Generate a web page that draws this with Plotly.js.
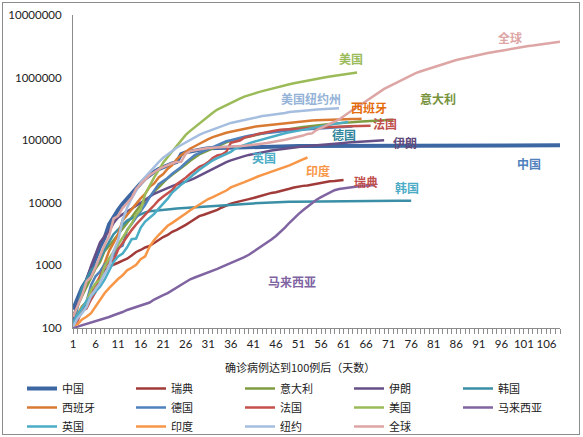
<!DOCTYPE html>
<html>
<head>
<meta charset="utf-8">
<script src="https://cdn.plot.ly/plotly-3.0.1.min.js"></script>
<style>
  html, body { margin: 0; padding: 0; background: #fff; }
  #wrap { position: relative; width: 583px; height: 437px; }
  #chart { width: 583px; height: 437px; }
  #frame {
    position: absolute; left: 2px; top: 2px; width: 576px; height: 431px;
    border: 1px solid #8c8c8c; pointer-events: none;
  }
</style>
</head>
<body>
<div id="wrap">
  <div id="chart"></div>
  <div id="frame"></div>
</div>
<script>
  // 确诊病例累计数，从达到100例那天起按天排列
  const china = [198, 291, 440, 571, 830, 1287, 1975, 2744, 4515, 5974, 7711, 9692, 11791,
    14380, 17205, 20438, 24324, 28018, 31161, 34546, 37198, 40171, 42638, 44653, 59804, 63851,
    66492, 68500, 70548, 72436, 74185, 74576, 75465, 76288, 76936, 77150, 77658, 78064, 78497,
    78824, 79251, 79824,
    80026, 80151, 80270, 80409, 80552, 80651, 80695, 80735, 80754, 80778, 80793, 80813, 80824,
    80844, 80860, 80881, 80894, 80928, 80967, 81008, 81054, 81093, 81171, 81218, 81285, 81340,
    81394, 81439, 81470, 81518, 81554,
    81589, 81620, 81639, 81669, 81708, 81740, 81802, 81865, 81907, 81953, 82052, 82160, 82249,
    82295, 82341, 82367, 82692, 82719, 82735, 82747, 82758, 82788, 82798, 82804, 82816, 82827,
    82830, 82836, 82858, 82862,
    82874, 82875, 82877, 82880, 82881, 82883];

  const sweden = [137, 161, 203, 248, 355, 500, 599, 814, 961, 1022, 1103, 1190, 1279, 1439,
    1639, 1763, 1934, 2046, 2286, 2526, 2840, 3069, 3447, 3700, 4028, 4435,
    4947, 5568, 6131, 6443, 6830, 7206, 7693, 8419, 9141, 9685, 10151, 10483, 10948, 11445,
    11927, 12540, 13216, 13822, 14385, 14777, 15322, 16004, 16755, 17567, 18177, 18640, 18926,
    19621, 20302, 21092,
    21520, 22082, 22317, 22721, 23216];

  const italy = [155, 229, 322, 453, 655, 888, 1128,
    1694, 2036, 2502, 3089, 3858, 4636, 5883, 7375, 9172, 10149, 12462, 15113, 17660, 21157,
    24747, 27980, 31506, 35713, 41035, 47021, 53578, 59138, 63927, 69176, 74386, 80589, 86498,
    92472, 97689, 101739, 105792,
    110574, 115242, 119827, 124632, 128948, 132547, 135586, 139422, 143626, 147577, 152271,
    156363, 159516, 162488, 165155, 168941, 172434, 175925, 178972, 181228, 183957, 187327,
    189973, 192994, 195351, 197675, 199414, 201505, 203591, 205463,
    207428, 209328, 210717, 211938];

  const iran = [139, 245, 388, 593,
    978, 1501, 2336, 2922, 3513, 4747, 5823, 6566, 7161, 8042, 9000, 10075, 11364, 12729,
    13938, 14991, 16169, 17361, 18407, 19644, 20610, 21638, 23049, 24811, 27017, 29406, 32332,
    35408, 38309, 41495, 44605,
    47593, 50468, 53183, 55743, 58226, 60500, 62589, 64586, 66220, 68192, 70029, 71686, 73303,
    74877, 76389, 77995, 79494, 80868, 82211, 83505, 84802, 85996, 87026, 88194, 89328, 90481,
    91472, 92584, 93657, 94640,
    95646, 96448, 97424, 98647, 99970];

  const korea = [104, 204, 433, 602, 833, 977, 1261, 1766, 2337, 3150,
    3736, 4335, 5186, 5621, 6088, 6593, 7041, 7314, 7478, 7513, 7755, 7869, 7979, 8086, 8162,
    8236, 8320, 8413, 8565, 8652, 8799, 8897, 8961, 9037, 9137, 9241, 9332, 9478, 9583, 9661,
    9786,
    9887, 9976, 10062, 10156, 10237, 10284, 10331, 10384, 10423, 10450, 10480, 10512, 10537,
    10564, 10591, 10613, 10635, 10653, 10661, 10674, 10683, 10694, 10702, 10708, 10718, 10728,
    10738, 10752, 10761, 10765,
    10774, 10780, 10793, 10801, 10804];

  const spain = [120, 165, 222, 259, 400, 500, 673, 1073, 1695, 2277, 3146, 5232, 6391, 7798,
    9942, 11748, 13910, 17963, 20410, 25374, 28768, 35136, 39885, 49515, 57786, 65719, 73235,
    80110, 87956, 95923,
    104118, 112065, 119199, 126168, 131646, 136675, 141942, 148220, 153222, 158273, 163027,
    166831, 170099, 172541, 177644, 180900, 182816, 188068, 191726, 194416, 198674, 200210,
    204178, 205905, 207634, 209465, 210773, 212917, 213435, 213800,
    215216, 216582, 217466, 218011, 219329];

  const germany = [130, 159, 196, 262, 482, 670, 799, 1040, 1176, 1457, 1908, 2078, 3675,
    4585, 5795, 7272, 9257, 12327, 15320, 19848, 22213, 24873, 29056, 32986, 37323, 43938,
    50871, 57695, 62095, 66885, 71808,
    77872, 84794, 91159, 96092, 100123, 103374, 107663, 113296, 118181, 122171, 124908, 127854,
    130072, 131359, 134753, 137698, 141397, 143342, 145184, 147065, 148291, 150648, 153129,
    154999, 156513, 157770, 158758, 159912, 161539, 163009,
    164077, 164967];

  const france = [100,
    130, 191, 204, 285, 377, 653, 949, 1126, 1209, 1784, 2281, 2876, 3661, 4499, 5423, 6633,
    7730, 9134, 10995, 12612, 14459, 16018, 19856, 22302, 25233, 29155, 32964, 37575, 40174,
    44550, 52128,
    56989, 59105, 65202, 90848, 93773, 98963, 110065, 113959, 118781, 125931, 130727, 133670,
    137875, 143303, 147091, 147969, 149149, 149232, 152894, 154188, 156480, 158100, 159297,
    160847, 161644, 162220, 163500, 165093, 165764, 166420,
    167299, 167305, 168396, 169462, 169583];

  const usa = [118, 149, 217, 262, 402, 518, 583, 959, 1281, 1663, 2179, 2726, 3499, 4632,
    6421, 7786, 13680, 19101, 25493, 33276, 43847, 53740, 65778, 83836, 101657, 121465,
    140909, 161831, 188172,
    213242, 243622, 275367, 308650, 336802, 366317, 397121, 428654, 462780, 496535, 526396,
    555313, 580619, 607670, 636350, 667801, 699706, 732197, 759086, 784326, 811865, 840351,
    869170, 905358, 938154, 965785, 988197, 1012582, 1039909, 1069424,
    1103461, 1132539, 1158040, 1180375, 1204351];

  const malaysia = [100, 105, 110, 115, 120, 128, 135, 140, 150, 160, 168, 180, 194, 205, 215,
    225, 235, 255, 285, 313, 335, 360, 400, 436, 480, 540, 600, 640, 680, 730, 780, 830, 880,
    950, 1016, 1100, 1190, 1280, 1360, 1480, 1650, 1850, 2050, 2300, 2600, 2950, 3400, 4000,
    4800, 5700, 6600, 7600, 8700, 9900, 11200, 12300, 13500, 14800, 15900, 16600, 17100,
    17500, 17800, 18200, 18600, 19000, 19100, 19200];

  const uk = [115, 163, 206, 273, 321, 382, 456, 590, 798, 1140, 1391, 1543, 1950, 2626, 2689,
    3983, 5018, 5683, 6650, 8077, 9529, 11658, 14543, 17089, 19522, 22141, 25150,
    29474, 33718, 38168, 41903, 47806, 51608, 55242, 60733, 65077, 73758, 78991, 84279, 88621,
    93873, 98476, 103093, 108692, 114217, 120067, 124743, 129044, 133495, 138078, 143464,
    148377, 152840, 157149, 161145, 165221, 171253,
    177454, 182260, 186599, 190584, 194990];

  const india = [110, 114, 137, 151, 173, 223, 283, 360, 434, 519, 606, 694, 834, 918, 1024,
    1251, 1397,
    1998, 2543, 3059, 3588, 4289, 4778, 5311, 5916, 6725, 7598, 8446, 9205, 10453, 11487,
    12322, 13430, 14352, 15722, 17615, 18539, 20080, 21370, 23077, 24530, 26283, 27890, 29451,
    31324, 33062, 34863,
    37257, 39699, 42505, 46437, 49400, 52952];

  const newYork = [105, 142, 173, 216, 328, 421, 525, 732, 967, 1706, 2495, 5365, 8310, 11710,
    15800, 20884, 25681, 30841, 37877, 44635, 52318, 59648, 66663, 75833,
    83712, 92381, 102863, 113704, 122031, 130689, 138863, 149316, 159937, 170512, 180458,
    188694, 195031, 202208, 213779, 222284, 229642, 236732, 242786, 247512, 251690, 257216,
    263460, 271590, 282143, 288045, 291996, 295106, 299691, 304372,
    308314, 312977, 316415, 318953, 321192, 323978];

  const world = [150, 230, 330,
    555, 654, 941, 1434, 2118, 2927, 5578, 6166, 8234, 9927,
    12038, 16787, 19881, 23892, 27635, 30794, 34391, 37120, 40150, 42762, 44802, 45221, 60368,
    66885, 69030, 71224, 73258, 75136, 75639, 76197, 76819, 78572, 78958, 79561, 80406, 81388,
    82746, 84112, 86011,
    88369, 90306, 92840, 95120, 97886, 101801, 105847, 109821, 113590, 118620, 125875, 128352,
    145205, 156101, 167454, 181574, 197102, 214821, 242570, 272208, 304507, 336953, 378235,
    418045, 467653, 529591, 593291, 660706, 720117, 782365, 857487,
    932605, 1013466, 1095917, 1176060, 1249754, 1321481, 1396476, 1480202, 1565278, 1657526,
    1735650, 1834721, 1904838, 1976191, 2056054, 2152437, 2240190, 2317759, 2401378, 2472259,
    2549294, 2624074, 2708885, 2811193, 2897022, 2971475, 3041764, 3116398, 3193886, 3256846,
    3343777, 3427343, 3506729, 3583055, 3662691, 3755341];

  const seriesNames = ["中国", "瑞典", "意大利", "伊朗", "韩国", "西班牙", "德国", "法国",
    "美国", "马来西亚", "英国", "印度", "纽约", "全球"];
  const seriesValues = [china, sweden, italy, iran, korea, spain, germany, france,
    usa, malaysia, uk, india, newYork, world];
  const seriesColors = ["#3d67a3", "#a03b39", "#7f9c43", "#664f86", "#3a8fa6", "#d97a33",
    "#4f81bd", "#c4504c", "#9bbb59", "#8064a2", "#4bacc6", "#f79646", "#a5bedf", "#dda5a4"];

  const dayTicks = [1, 6, 11, 16, 21, 26, 31, 36, 41, 46, 51, 56, 61, 66, 71, 76, 81, 86, 91,
    96, 101, 106];
  const logTicks = [100, 1000, 10000, 100000, 1000000, 10000000];

  // 曲线旁的文字标注：[文字, 颜色, 像素x, 像素y]
  const labels = [
    ["美国", "#9bbb59", 351, 58],
    ["全球", "#dda5a4", 510, 38],
    ["美国纽约州", "#95b3d7", 311, 98],
    ["意大利", "#77933c", 438, 98],
    ["西班牙", "#e46c0a", 369, 108],
    ["法国", "#c0504d", 385, 124],
    ["德国", "#31859c", 344, 134],
    ["伊朗", "#604a7b", 405, 142],
    ["英国", "#4bacc6", 264, 157],
    ["中国", "#4f81bd", 529, 163],
    ["印度", "#f79646", 318, 170],
    ["瑞典", "#c0504d", 366, 181],
    ["韩国", "#4bacc6", 407, 187],
    ["马来西亚", "#8064a2", 292, 281],
  ];

  const cjk = '"Noto Sans CJK SC", "Lato", sans-serif';
  const L = 73, R = 560, T = 15, B = 328;
  const px = (x) => (x - L) / (R - L);
  const py = (y) => (B - y) / (B - T);

  const traces = seriesNames.map((name, i) => ({
    type: "scatter",
    mode: "lines",
    name: name,
    x: seriesValues[i].map((_, k) => k + 1),
    y: seriesValues[i],
    line: { color: seriesColors[i], width: i === 0 ? 4 : 2.5 },
    hoverinfo: "skip",
  }));

  const annotations = labels.map(([text, color, x, y]) => ({
    xref: "paper", yref: "paper", x: px(x), y: py(y),
    xanchor: "center", yanchor: "middle",
    borderpad: 0,
    text: text, showarrow: false,
    font: { family: cjk, size: 12, color: color, weight: "bold" },
  }));

  annotations.push({
    xref: "paper", yref: "paper", x: px(300), y: py(367),
    xanchor: "center", yanchor: "middle",
    text: "确诊病例达到100例后（天数）", showarrow: false,
    font: { family: cjk, size: 11, color: "#222" },
  });

  const layout = {
    width: 583,
    height: 437,
    margin: { l: L, r: 583 - R, t: T, b: 437 - B, autoexpand: false },
    paper_bgcolor: "#fff",
    plot_bgcolor: "#fff",
    showlegend: true,
    legend: {
      orientation: "h",
      xref: "paper", yref: "paper",
      x: px(22), y: py(374),
      xanchor: "left", yanchor: "top",
      entrywidth: 64, entrywidthmode: "pixels",
      font: { family: cjk, size: 11, color: "#222" },
      traceorder: "normal",
    },
    xaxis: {
      range: [1, 109],
      showgrid: false,
      zeroline: false,
      showline: true,
      linecolor: "#8c8c8c",
      linewidth: 1,
      tickmode: "array",
      tickvals: dayTicks,
      ticktext: dayTicks.map(String),
      ticks: "outside",
      ticklen: 5,
      tickcolor: "#8c8c8c",
      tickfont: { family: "Lato, sans-serif", size: 11.5, color: "#222" },
      minor: { tickmode: "linear", tick0: 1, dtick: 1, ticks: "outside", ticklen: 5, tickcolor: "#8c8c8c" },
    },
    yaxis: {
      type: "log",
      range: [2, 7],
      showgrid: false,
      zeroline: false,
      showline: true,
      linecolor: "#8c8c8c",
      linewidth: 1,
      tickmode: "array",
      tickvals: logTicks,
      ticktext: logTicks.map(String),
      ticks: "",
      ticklabelstandoff: 8,
      tickfont: { family: "Lato, sans-serif", size: 11.5, color: "#222" },
    },
    annotations: annotations,
  };

  Plotly.newPlot("chart", traces, layout, { staticPlot: true, displayModeBar: false });
</script>
</body>
</html>
